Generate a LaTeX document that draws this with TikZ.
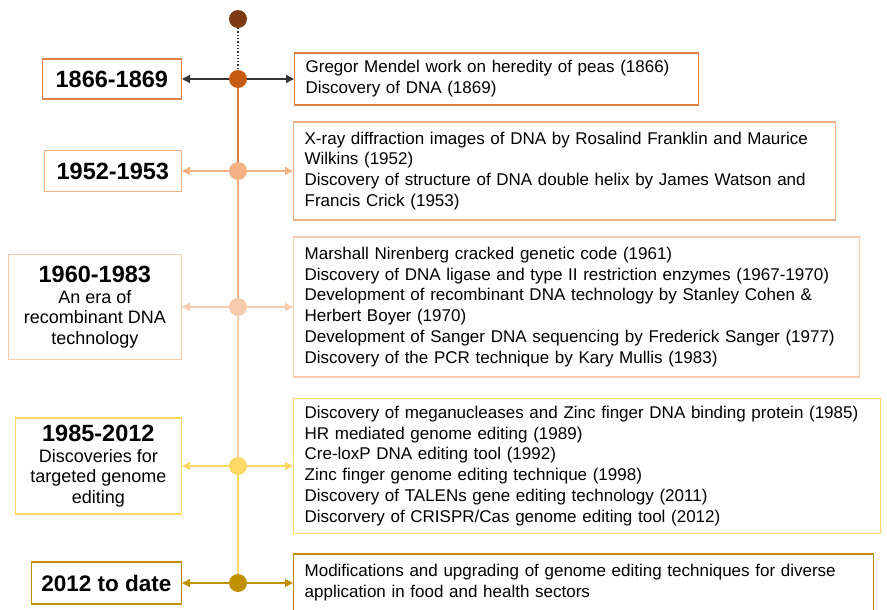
\documentclass[tikz,border=0pt]{standalone}
\usepackage{fontspec}
\setmainfont{Liberation Sans}
\usetikzlibrary{arrows.meta}
\hyphenpenalty=10000

\definecolor{brownA}{HTML}{7B3A10}
\definecolor{orangeA}{HTML}{C55A11}
\definecolor{orangeB}{HTML}{DE7F45}
\definecolor{peachA}{HTML}{F4B183}
\definecolor{peachB}{HTML}{F8CBAD}
\definecolor{yellowA}{HTML}{FFD966}
\definecolor{goldA}{HTML}{BF9000}
\definecolor{greyA}{HTML}{333333}

\begin{document}
\begin{tikzpicture}[x=1pt,y=-1pt]
                \useasboundingbox (0,0) rectangle (887,610);
                % timeline dots
                \begin{scope}[every node/.style={circle,inner sep=0pt,minimum size=18pt}]
                    \node[fill=brownA] (D0) at (238,19) {};
                    \node[fill=orangeA] (D1) at (238,79) {};
                    \node[fill=peachA] (D2) at (238,171) {};
                    \node[fill=peachB] (D3) at (238,307) {};
                    \node[fill=yellowA] (D4) at (238,466) {};
                    \node[fill=goldA] (D5) at (238,583) {};
                \end{scope}
                % year boxes
                \begin{scope}[every node/.style={draw,line width=1.3pt,fill=white,anchor=east,align=center,inner sep=2pt,font=\fontsize{18}{20.5}\selectfont}]
                    \node[draw=orangeB,minimum width=139pt,minimum height=40pt] (L1) at (182,79) {\fontsize{23.5}{25}\selectfont\bfseries 1866-1869};
                    \node[draw=peachA,minimum width=137pt,minimum height=41pt] (L2) at (182,171) {\fontsize{23.5}{25}\selectfont\bfseries 1952-1953};
                    \node[draw=peachB,minimum width=173pt,minimum height=105pt] (L3) at (182,307) {{\fontsize{23.5}{25}\selectfont\bfseries 1960-1983}\\An era of\\recombinant DNA\\technology};
                    \node[draw=yellowA,minimum width=166pt,minimum height=96pt] (L4) at (182,466) {{\fontsize{23.5}{25}\selectfont\bfseries 1985-2012}\\Discoveries for\\targeted genome\\editing};
                    \node[draw=goldA,minimum width=150pt,minimum height=42pt] (L5) at (182,583) {\fontsize{22.5}{25}\selectfont\bfseries 2012 to date};
                \end{scope}
                % event boxes
                \begin{scope}[every node/.style={draw,line width=1.3pt,fill=white,anchor=west,align=left,inner xsep=11pt,font=\fontsize{17}{20.8}\selectfont}]
                    \node[draw=orangeB,text width=382pt,minimum height=52pt] (R1) at (294,79) {Gregor Mendel work on heredity of peas (1866)\\Discovery of DNA (1869)};
                    \node[draw=peachA,text width=520pt,minimum height=98pt] (R2) at (293,171) {X-ray diffraction images of DNA by Rosalind Franklin and Maurice\\Wilkins (1952)\\Discovery of structure of DNA double helix by James Watson and\\Francis Crick (1953)};
                    \node[draw=peachB,text width=544pt,minimum height=140pt] (R3) at (293,307) {Marshall Nirenberg cracked genetic code (1961)\\Discovery of DNA ligase and type II restriction enzymes (1967-1970)\\Development of recombinant DNA technology by Stanley Cohen \&\\Herbert Boyer (1970)\\Development of Sanger DNA sequencing by Frederick Sanger (1977)\\Discovery of the PCR technique by Kary Mullis (1983)};
                    \node[draw=yellowA,text width=565pt,minimum height=135pt] (R4) at (293,466) {Discovery of meganucleases and Zinc finger DNA binding protein (1985)\\HR mediated genome editing (1989)\\Cre-loxP DNA editing tool (1992)\\Zinc finger genome editing technique (1998)\\Discovery of TALENs gene editing technology (2011)\\Discorvery of CRISPR/Cas genome editing tool (2012)};
                    \node[draw=goldA,text width=558pt,minimum height=58pt] (R5) at (293,583) {Modifications and upgrading of genome editing techniques for diverse\\application in food and health sectors};
                \end{scope}
                % timeline and arrows
                \begin{scope}[every edge/.style={draw,line width=1.3pt}]
                    \draw (D0) edge[greyA,dotted,line width=1.6pt] (D1);
                    \draw (D1) edge[orangeB] (D2);
                    \draw (D2) edge[peachA] (D3);
                    \draw (D3) edge[peachB] (D4);
                    \draw (D4) edge[yellowA] (D5);
                \end{scope}
                \begin{scope}[every edge/.style={draw,line width=1.3pt,-{Triangle[length=8pt,width=8pt]}}]
                    \draw (D1) edge[greyA] (L1);
                    \draw (D1) edge[greyA] (R1);
                    \draw (D2) edge[peachA] (L2);
                    \draw (D2) edge[peachA] (R2);
                    \draw (D3) edge[peachB] (L3);
                    \draw (D3) edge[peachB] (R3);
                    \draw (D4) edge[yellowA] (L4);
                    \draw (D4) edge[yellowA] (R4);
                    \draw (D5) edge[goldA] (L5);
                    \draw (D5) edge[goldA] (R5);
                \end{scope}
\end{tikzpicture}
\end{document}
